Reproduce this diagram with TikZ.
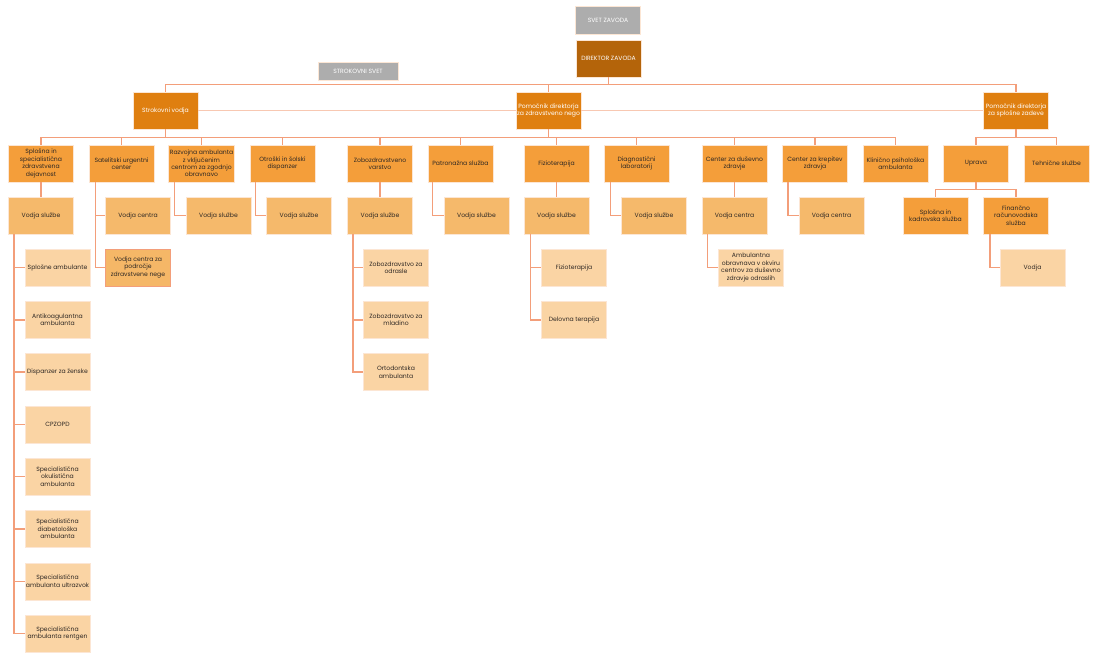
\documentclass[tikz,border=0pt]{standalone}
\usepackage{fontspec}
\setmainfont{Poppins}
\begin{document}
\begin{tikzpicture}[x=1pt,y=-1pt,font=\fontsize{6.1}{7.4}\selectfont,
  box/.style={draw=edge,line width=0.6pt,minimum width=65,minimum height=37,inner sep=1pt,align=center,text=ink},
  greybox/.style={box,fill=grey,text=white},
  topbox/.style={box,fill=dirc,text=white},
  secbox/.style={box,fill=secc,text=white},
  thirdbox/.style={box,fill=thirdc},
  fourthbox/.style={box,fill=fourthc},
  fifthbox/.style={box,fill=fifthc},
  link/.style={draw=linkc,line width=1.5pt},
  aide/.style={draw=aidec,line width=1.2pt}]
\definecolor{ink}{HTML}{2E2824}\definecolor{edge}{HTML}{FCE6D4}
\definecolor{grey}{HTML}{ADADAD}\definecolor{dirc}{HTML}{B4640A}
\definecolor{secc}{HTML}{DF7F10}\definecolor{thirdc}{HTML}{F49E3A}
\definecolor{fourthc}{HTML}{F5B96B}\definecolor{fifthc}{HTML}{FAD4A4}
\definecolor{linkc}{HTML}{F39E7A}\definecolor{aidec}{HTML}{F8C8B2}
\useasboundingbox (0,0) rectangle (1100,663);
\node[greybox,minimum height=28] (svet) at (608,20) {SVET ZAVODA};
\node[topbox] (dir) at (608.5,58.5) {DIREKTOR ZAVODA};
\node[greybox,minimum width=80,minimum height=18] (ssvet) at (358,71) {STROKOVNI SVET};
\node[secbox] (sv) at (165.5,110.5) {Strokovni vodja};
\node[secbox] (pz) at (548.5,110.5) {Pomočnik direktorja\\za zdravstveno nego};
\node[secbox] (ps) at (1016,110.5) {Pomočnik direktorja\\za splošne zadeve};
\node[thirdbox] (c1) at (41,163.5) {Splošna in\\specialistična\\zdravstvena\\dejavnost};
\node[thirdbox] (c2) at (121.5,163.5) {Satelitski urgentni\\center};
\node[thirdbox] (c3) at (201.5,163.5) {Razvojna ambulanta\\z vključenim\\centrom za zgodnjo\\obravnavo};
\node[thirdbox] (c4) at (282.5,163.5) {Otroški in šolski\\dispanzer};
\node[thirdbox] (c5) at (380,163.5) {Zobozdravstveno\\varstvo};
\node[thirdbox] (c6) at (460.5,163.5) {Patronažna služba};
\node[thirdbox] (c7) at (556.5,163.5) {Fizioterapija};
\node[thirdbox] (c8) at (636.5,163.5) {Diagnostični\\laboratorij};
\node[thirdbox] (c9) at (734.5,163.5) {Center za duševno\\zdravje};
\node[thirdbox] (c10) at (815,163.5) {Center za krepitev\\zdravja};
\node[thirdbox] (c11) at (895.5,163.5) {Klinično psihološka\\ambulanta};
\node[thirdbox] (c12) at (976,163.5) {Uprava};
\node[thirdbox] (c13) at (1056.5,163.5) {Tehnične službe};
\node[fourthbox] (v1) at (41,215.5) {Vodja službe};
\node[fourthbox] (v2) at (138,215.5) {Vodja centra};
\node[fourthbox,fill=fourthc!92!thirdc,draw=linkc] (v2b) at (138,267.5) {Vodja centra za\\področje\\zdravstvene nege};
\node[fourthbox] (v3) at (218.5,215.5) {Vodja službe};
\node[fourthbox] (v4) at (299,215.5) {Vodja službe};
\node[fourthbox] (v5) at (380,215.5) {Vodja službe};
\node[fourthbox] (v6) at (476.5,215.5) {Vodja službe};
\node[fourthbox] (v7) at (556.5,215.5) {Vodja službe};
\node[fourthbox] (v8) at (654,215.5) {Vodja službe};
\node[fourthbox] (v9) at (734.5,215.5) {Vodja centra};
\node[fourthbox] (v10) at (831.5,215.5) {Vodja centra};
\node[thirdbox] (k1) at (935.5,215.5) {Splošna in\\kadrovska služba};
\node[thirdbox] (k2) at (1016,215.5) {Finančno\\računovodska\\služba};
\node[fifthbox] (vd) at (1032.5,267.5) {Vodja};
\node[fifthbox] (s1) at (57.5,267.5) {Splošne ambulante};
\node[fifthbox] (s2) at (57.5,319.8) {Antikoagulantna\\ambulanta};
\node[fifthbox] (s3) at (57.5,372.1) {Dispanzer za ženske};
\node[fifthbox] (s4) at (57.5,424.4) {CPZOPD};
\node[fifthbox] (s5) at (57.5,476.7) {Specialistična\\okulistična\\ambulanta};
\node[fifthbox] (s6) at (57.5,529.0) {Specialistična\\diabetološka\\ambulanta};
\node[fifthbox] (s7) at (57.5,581.3) {Specialistična\\ambulanta ultrazvok};
\node[fifthbox] (s8) at (57.5,633.6) {Specialistična\\ambulanta rentgen};
\node[fifthbox] (z1) at (396,267.5) {Zobozdravstvo za\\odrasle};
\node[fifthbox] (z2) at (396,319.8) {Zobozdravstvo za\\mladino};
\node[fifthbox] (z3) at (396,372.1) {Ortodontska\\ambulanta};
\node[fifthbox] (f1) at (574,267.5) {Fizioterapija};
\node[fifthbox] (f2) at (574,319.8) {Delovna terapija};
\node[fifthbox] (d1) at (751,267.5) {Ambulantna\\obravnava v okviru\\centrov za duševno\\zdravje odraslih};
\coordinate (dbus) at ([yshift=-7pt]dir.south);
\coordinate (sbus) at ([yshift=-8pt]sv.south);
\coordinate (pbus) at ([yshift=-8pt]ps.south);
\coordinate (ubus) at ([yshift=-7pt]c12.south);
\draw[aide] (sv.east) -- (pz.west) (pz.east) -- (ps.west);
\draw[link] (dir.south) -- (dbus) -| (sv.north) (dbus) -| (ps.north) (dbus) -| (pz.north);
\draw[link] (sv.south) -- (sbus) -| (c1.north) (sbus) -| (c2.north) (sbus) -| (c3.north) (sbus) -| (c4.north);
\draw[link] (sbus) -| (c5.north) (sbus) -| (c6.north) (sbus) -| (c7.north) (sbus) -| (c8.north);
\draw[link] (sbus) -| (c9.north) (sbus) -| (c10.north) (sbus) -| (c11.north) (pz.south) |- (sbus);
\draw[link] (ps.south) -- (pbus) -| (c12.north) (pbus) -| (c13.north);
\draw[link] (c12.south) -- (ubus) -| (k1.north) (ubus) -| (k2.north);
\draw[link] (c1.south) -- (v1.north) (c5.south) -- (v5.north) (c7.south) -- (v7.north) (c9.south) -- (v9.north);
\draw[link] ([xshift=7pt]c2.south west) |- (v2.west) ([xshift=7pt]c2.south west) |- (v2b.west);
\draw[link] ([xshift=6pt]c3.south west) |- (v3.west) ([xshift=6pt]c4.south west) |- (v4.west);
\draw[link] ([xshift=5pt]c6.south west) |- (v6.west) ([xshift=7pt]c8.south west) |- (v8.west);
\draw[link] ([xshift=6pt]c10.south west) |- (v10.west) ([xshift=7pt]k2.south west) |- (vd.west);
\draw[link] ([xshift=6pt]v1.south west) |- (s1.west) ([xshift=6pt]v1.south west) |- (s2.west) ([xshift=6pt]v1.south west) |- (s3.west) ([xshift=6pt]v1.south west) |- (s4.west);
\draw[link] ([xshift=6pt]v1.south west) |- (s5.west) ([xshift=6pt]v1.south west) |- (s6.west) ([xshift=6pt]v1.south west) |- (s7.west) ([xshift=6pt]v1.south west) |- (s8.west);
\draw[link] ([xshift=6pt]v5.south west) |- (z1.west) ([xshift=6pt]v5.south west) |- (z2.west) ([xshift=6pt]v5.south west) |- (z3.west);
\draw[link] ([xshift=7pt]v7.south west) |- (f1.west) ([xshift=7pt]v7.south west) |- (f2.west);
\draw[link] ([xshift=6pt]v9.south west) |- (d1.west);
\end{tikzpicture}
\end{document}
